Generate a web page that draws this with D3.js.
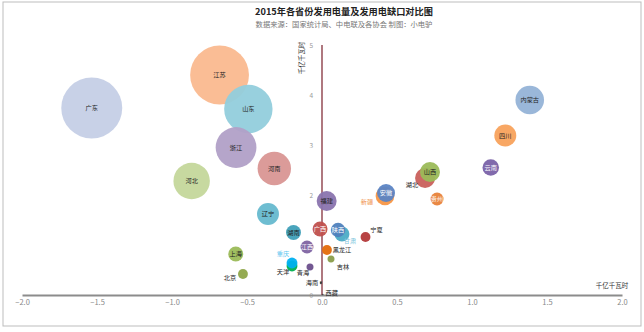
<!DOCTYPE html>
<html><head><meta charset="utf-8">
<script src="https://cdn.jsdelivr.net/npm/d3@7"></script>
<style>
html,body{margin:0;padding:0;background:#fff;}
svg{display:block;}
text{font-family:"Noto Sans CJK SC","Noto Sans",sans-serif;}
</style></head>
<body>
<svg id="chart" width="644" height="332"></svg>
<script>
// ---- data ----
const titleText = "2015年各省份发用电量及发用电缺口对比图";
const subtitleText = "数据来源：国家统计局、中电联及各协会 制图：小电驴";
const xUnit = "千亿千瓦时";
const yUnit = "千亿千瓦时";
const xTicks = [-2.0, -1.5, -1.0, -0.5, 0.0, 0.5, 1.0, 1.5, 2.0];
// tick "1" is hidden behind the 江西 bubble in the reference
const yTicks = [0, 2, 3, 4, 5];

const provinces  = ["广东","江苏","山东","浙江","河北","河南","内蒙古","辽宁","四川","福建","湖北","山西","新疆","安徽","云南","湖南","广西","甘肃","陕西","上海","江西","贵州","天津","重庆","北京","黑龙江","宁夏","吉林","青海","海南","西藏"];
// 发用电缺口 (x), 发电量 (y), 用电量 (bubble size), all in 千亿千瓦时
const gap        = [-1.535,-0.683,-0.491,-0.573,-0.869,-0.318, 1.385,-0.360, 1.222, 0.031, 0.687, 0.720, 0.420, 0.427, 1.125,-0.190,-0.013, 0.133, 0.107,-0.575,-0.100, 0.767,-0.200,-0.200,-0.527, 0.033, 0.290, 0.060,-0.080,-0.007, 0.005];
const generation = [ 3.74,  4.40,  3.72,  2.95,  2.28,  2.53,  3.90,  1.62,  3.19,  1.88,  2.34,  2.46,  1.98,  2.04,  2.55,  1.25,  1.32,  1.22,  1.30,  0.82,  0.96,  1.92,  0.58,  0.64,  0.42,  0.90,  1.16,  0.72,  0.56,  0.24,  0.01];
const consumption= [ 5.32,  4.95,  3.35,  2.38,  1.90,  1.60,  1.17,  0.69,  0.69,  0.57,  0.57,  0.57,  0.50,  0.46,  0.39,  0.32,  0.32,  0.32,  0.30,  0.32,  0.24,  0.24,  0.17,  0.17,  0.14,  0.14,  0.14,  0.07,  0.07,  0.008, 0.0015];

// ---- styles ----
const fillColor = {
  "广东":"#c5cfe6","江苏":"#fab98f","山东":"#92cddc","浙江":"#b1a0c7","河北":"#c4d79b","河南":"#d99694",
  "内蒙古":"#95b3d7","辽宁":"#66b9cf","四川":"#f8a25c","福建":"#8a74ae","湖北":"#c9605c","山西":"#9bbb59",
  "新疆":"#f79646","安徽":"#5b84c4","云南":"#7a62a8","湖南":"#3f9fb8","广西":"#c0504d","甘肃":"#4bacc6",
  "陕西":"#4f81bd","上海":"#9bbb59","江西":"#8064a2","贵州":"#e8823a","天津":"#00b050","重庆":"#00b0f0",
  "北京":"#8fa64a","黑龙江":"#e46c0a","宁夏":"#b3393a","吉林":"#8a9d4a","青海":"#6c4f8c","海南":"#444","西藏":"#444"
};
const whiteLabel = new Set(["安徽","广西","陕西","云南","贵州","江西"]);
// label offsets (px) for labels placed outside their bubble; others centered
const labelOffset = {
  "湖北":[-13,7], "新疆":[-18,6], "甘肃":[8,7], "重庆":[-9,-9], "天津":[-9,6], "北京":[-13,4],
  "青海":[-7,6], "海南":[-9,0], "西藏":[9,-2], "黑龙江":[15,0], "吉林":[12,8], "宁夏":[11,-7]
};
const labelColor = {"新疆":"#f0904a","甘肃":"#7cc4dc","重庆":"#5cc6ef"};

// ---- chart ----
const svg = d3.select("#chart");

svg.append("rect").attr("x",3).attr("y",2).attr("width",638).attr("height",324)
  .attr("fill","#fff").attr("stroke","#bdbdbd").attr("stroke-width",1);

const x = d3.scaleLinear().domain([-2, 2]).range([22, 622]);
const y = d3.scaleLinear().domain([0, 5]).range([295, 45]);
const r = d3.scaleSqrt().domain([0, 5.5]).range([0, 31]);

// title
svg.append("text").attr("x",344).attr("y",15).attr("text-anchor","middle")
  .attr("font-size",9.2).attr("font-weight","bold").attr("fill","#222").text(titleText);
svg.append("text").attr("x",344).attr("y",27).attr("text-anchor","middle")
  .attr("font-size",7.3).attr("fill","#777").text(subtitleText);

// y axis (tick labels first, underneath bubbles)
const yAxis = d3.axisLeft(y).tickValues(yTicks).tickSize(0).tickPadding(9).tickFormat(d3.format("d"));
const gy = svg.append("g").attr("transform",`translate(${x(0)},0)`).call(yAxis);
gy.select(".domain").remove();
gy.selectAll("text").attr("font-family","Liberation Serif, serif").attr("font-size",6.5).attr("fill","#999");

// x axis
const xAxis = d3.axisBottom(x).tickValues(xTicks).tickSize(0).tickPadding(5).tickFormat(d3.format(".1f"));
const gx = svg.append("g").attr("transform",`translate(0,${y(0)})`).call(xAxis);
gx.select(".domain").attr("stroke","#8c8c8c").attr("stroke-width",2);
gx.selectAll("text").attr("font-family","Liberation Serif, serif").attr("font-size",7.5).attr("fill","#888");

// vertical zero line
svg.append("line").attr("x1",x(0)).attr("x2",x(0)).attr("y1",y(5)).attr("y2",y(0))
  .attr("stroke","#7a1f2b").attr("stroke-width",1.2);

// axis titles
svg.append("text").attr("x",612).attr("y",288).attr("text-anchor","middle")
  .attr("font-size",6.5).attr("fill","#333").text(xUnit);
svg.append("text").attr("transform",`translate(304,58) rotate(-90)`).attr("text-anchor","middle")
  .attr("font-size",6.5).attr("fill","#333").text(yUnit);

// bubbles
const data = provinces.map((p,i)=>({name:p, gap:gap[i], gen:generation[i], use:consumption[i], idx:i}));
const ordered = data.slice().sort((a,b)=> (b.use - a.use) || (a.idx - b.idx));

svg.append("g").selectAll("circle").data(ordered).join("circle")
  .attr("cx", d=>x(d.gap)).attr("cy", d=>y(d.gen)).attr("r", d=>Math.max(r(d.use),0.8))
  .attr("fill", d=>fillColor[d.name]).attr("opacity",0.95);

// marker for the tiny 海南 point
const hn = data[provinces.indexOf("海南")];
svg.append("text").attr("x",x(hn.gap)).attr("y",y(hn.gen)+2.5).attr("text-anchor","middle")
  .attr("font-size",6).attr("fill","#333").text("*");

// labels
svg.append("g").selectAll("text").data(data).join("text")
  .attr("x", d=> x(d.gap) + (labelOffset[d.name] ? labelOffset[d.name][0] : 0))
  .attr("y", d=> y(d.gen) + (labelOffset[d.name] ? labelOffset[d.name][1] : 0))
  .attr("dy","0.35em")
  .attr("text-anchor","middle")
  .attr("font-size",6.2)
  .attr("fill", d=> labelColor[d.name] || (whiteLabel.has(d.name) && !labelOffset[d.name] ? "#fff" : "#222"))
  .text(d=>d.name);
</script>
</body></html>
